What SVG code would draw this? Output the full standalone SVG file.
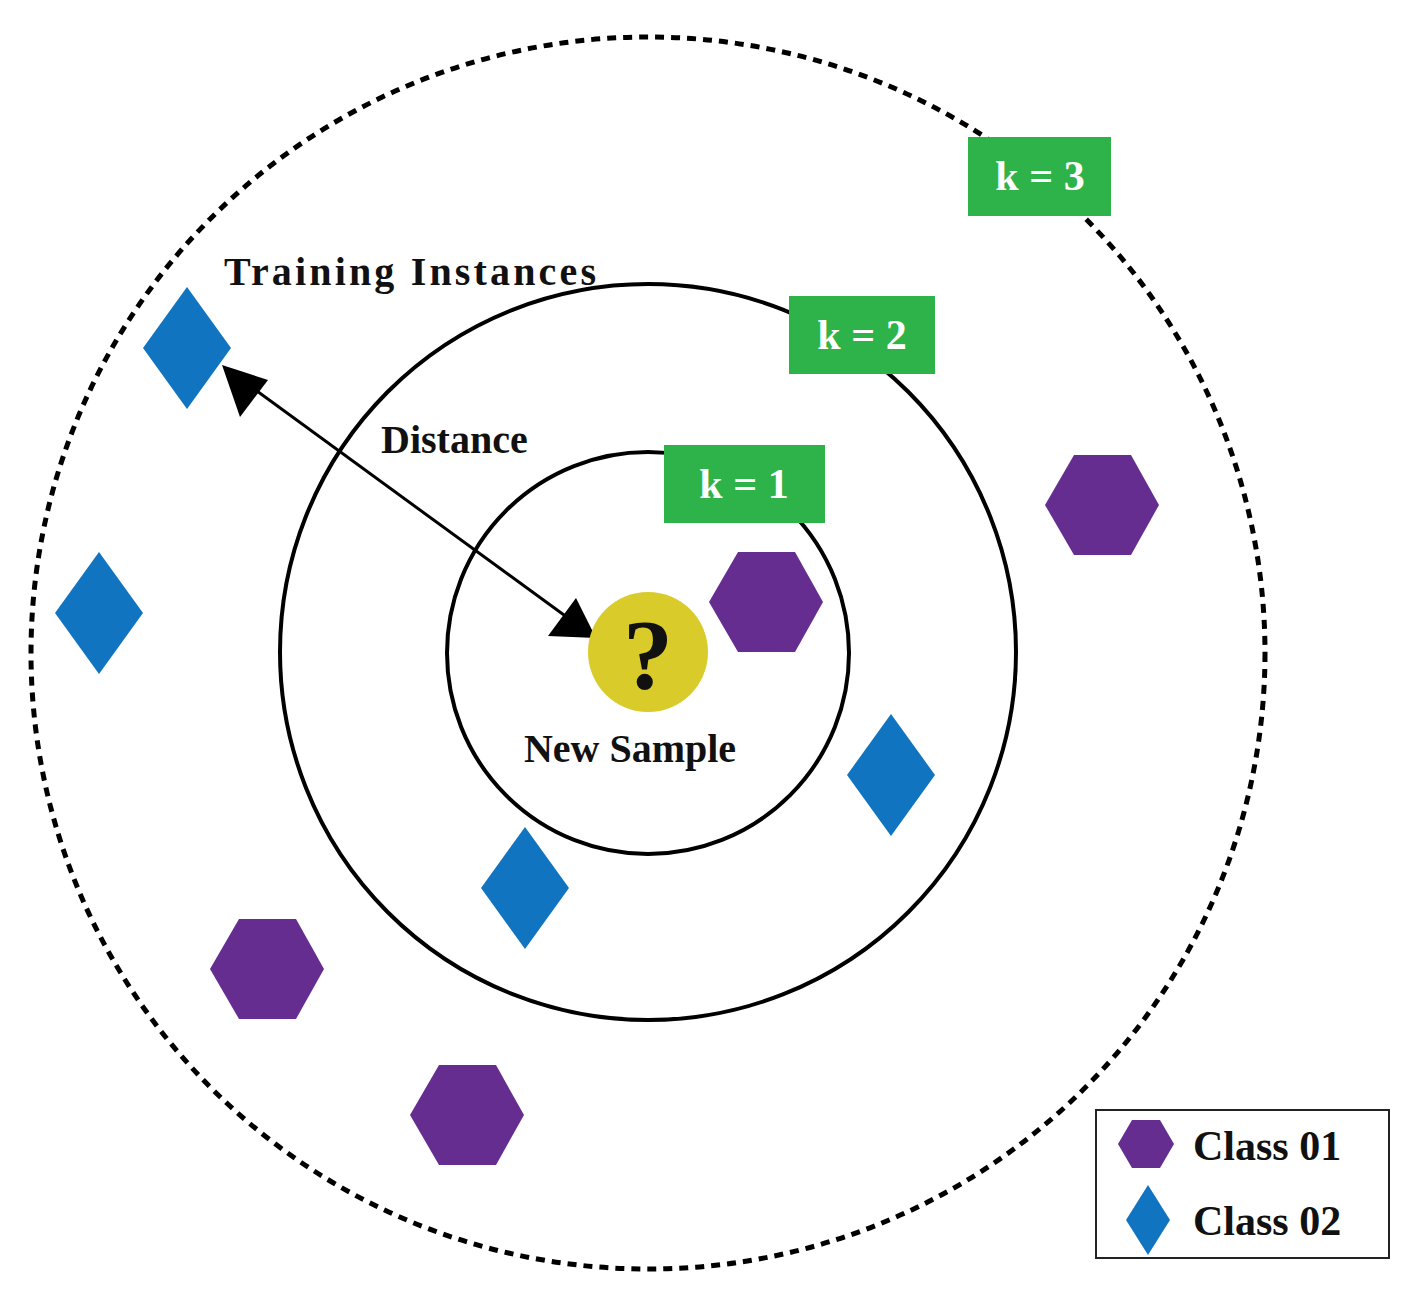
<svg xmlns="http://www.w3.org/2000/svg" width="1418" height="1302" viewBox="0 0 1418 1302">
<defs>
<style>
.t{font-family:"Liberation Serif","DejaVu Serif",serif;font-weight:bold;fill:#111}
.k{font-family:"Liberation Serif","DejaVu Serif",serif;font-weight:bold;fill:#fff;font-size:42px}
.hex{fill:#652d90}
.dia{fill:#1174c0}
.g{fill:#2db34a}
</style>
<marker id="ah" markerWidth="10" markerHeight="10" refX="9" refY="5" orient="auto-start-reverse" markerUnits="userSpaceOnUse" viewBox="0 0 10 10">
<path d="M0,0 L10,5 L0,10 L2,5 Z" fill="#000"/>
</marker>
</defs>
<rect width="1418" height="1302" fill="#fff"/>
<g id="rings" fill="none" stroke="#000">
<ellipse cx="648" cy="653" rx="617" ry="616" stroke-width="5" stroke-dasharray="9,7"/>
<circle cx="648" cy="652" r="368" stroke-width="4"/>
<circle cx="648" cy="653" r="201" stroke-width="4"/>
</g>
<g id="k3"><rect class="g" x="968" y="137" width="143" height="79"/><text class="k" x="1040" y="190" text-anchor="middle">k = 3</text></g>
<g id="k2"><rect class="g" x="789" y="296" width="146" height="78"/><text class="k" x="862" y="349" text-anchor="middle">k = 2</text></g>
<g id="k1"><rect class="g" x="664" y="445" width="161" height="78"/><text class="k" x="744" y="498" text-anchor="middle">k = 1</text></g>
<g id="connectors">
<line x1="228" y1="370" x2="590" y2="634" stroke="#000" stroke-width="3" marker-start="url(#ah)" marker-end="url(#ah)" style="marker-size:auto"/>
</g>
<g id="arrowheads">
<path d="M222,365 L268,380 L240,417 Z" fill="#000"/>
<path d="M596,638 L548,636 L576,598 Z" fill="#000"/>
</g>
<g id="new-sample">
<circle cx="648" cy="652" r="60" fill="#d9cb2a"/>
<text class="t" x="648" y="688" text-anchor="middle" font-size="100">?</text>
<text class="t" x="630" y="762" text-anchor="middle" font-size="40">New Sample</text>
</g>
<g id="labels">
<text class="t" x="224" y="285" font-size="40" textLength="372">Training Instances</text>
<text class="t" x="381" y="453" font-size="40">Distance</text>
</g>
<g id="class01">
<polygon class="hex" points="709,602 738,552 795,552 823,602 795,652 738,652"/>
<polygon class="hex" points="1045,505 1074,455 1131,455 1159,505 1131,555 1074,555"/>
<polygon class="hex" points="210,969 239,919 296,919 324,969 296,1019 239,1019"/>
<polygon class="hex" points="410,1115 439,1065 496,1065 524,1115 496,1165 439,1165"/>
</g>
<g id="class02">
<polygon class="dia" points="187,287 231,348 187,409 143,348"/>
<polygon class="dia" points="99,552 143,613 99,674 55,613"/>
<polygon class="dia" points="891,714 935,775 891,836 847,775"/>
<polygon class="dia" points="525,827 569,888 525,949 481,888"/>
</g>
<g id="legend">
<rect x="1096" y="1110" width="293" height="148" fill="#fff" stroke="#222" stroke-width="2"/>
<polygon class="hex" points="1118,1144 1132,1120 1160,1120 1174,1144 1160,1168 1132,1168"/>
<polygon class="dia" points="1148,1185 1170,1220 1148,1255 1126,1220"/>
<text class="t" x="1193" y="1160" font-size="42">Class 01</text>
<text class="t" x="1193" y="1235" font-size="42">Class 02</text>
</g>
</svg>
